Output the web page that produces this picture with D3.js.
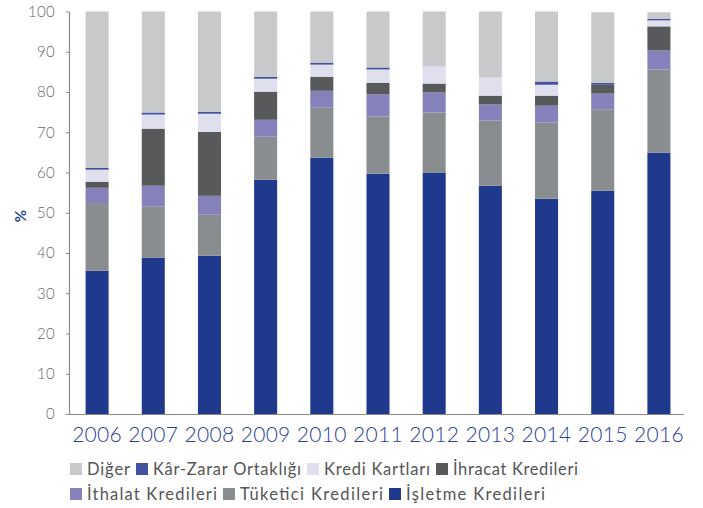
<!DOCTYPE html>
<html>
<head>
<meta charset="utf-8">
<script src="https://cdn.jsdelivr.net/npm/d3@7"></script>
<style>
  html, body { margin: 0; padding: 0; background: #fff; }
  svg { display: block; font-family: Lato, "Open Sans", sans-serif; }
</style>
</head>
<body>
<svg id="chart" width="703" height="508"></svg>
<script>
// Years along the x axis
const years = ["2006","2007","2008","2009","2010","2011","2012","2013","2014","2015","2016"];

// Share of each loan type (%), stacked bottom to top
const isletme     = [35.6, 38.8, 39.3, 58.2, 63.7, 59.7, 60.0, 56.7, 53.5, 55.5, 64.9];
const tuketici    = [16.8, 12.7, 10.2, 10.7, 12.4, 14.2, 14.9, 16.2, 18.9, 20.1, 20.7];
const ithalat     = [ 3.8,  5.2,  4.7,  4.2,  4.2,  5.5,  5.0,  4.0,  4.2,  4.0,  4.7];
const ihracat     = [ 1.5, 14.2, 15.9,  7.0,  3.5,  2.9,  2.2,  2.2,  2.5,  2.2,  6.0];
const krediKart   = [ 3.0,  3.5,  4.5,  3.2,  3.0,  3.3,  4.2,  4.5,  2.7,  0.0,  1.5];
const karZarar    = [ 0.5,  0.5,  0.5,  0.5,  0.5,  0.5,  0.0,  0.0,  0.8,  0.5,  0.4];
const diger       = [38.8, 25.1, 24.9, 16.2, 12.7, 13.9, 13.7, 16.4, 17.4, 17.5,  1.6];

const yTicks = [0,10,20,30,40,50,60,70,80,90,100];

// Series in stacking order (bottom first)
const series = [
  { key: "isletme",   name: "İşletme Kredileri",   values: isletme,   color: "#1f398d" },
  { key: "tuketici",  name: "Tüketici Kredileri",  values: tuketici,  color: "#8a8d90" },
  { key: "ithalat",   name: "İthalat Kredileri",   values: ithalat,   color: "#8582bb" },
  { key: "ihracat",   name: "İhracat Kredileri",   values: ihracat,   color: "#58595b" },
  { key: "krediKart", name: "Kredi Kartları",      values: krediKart, color: "#dfdfee" },
  { key: "karZarar",  name: "Kâr-Zarar Ortaklığı", values: karZarar,  color: "#4451a1" },
  { key: "diger",     name: "Diğer",               values: diger,     color: "#c8c9cb" }
];

// Legend rows: entry order, swatch left edges and the right end of each row
const legendRows = [
  { keys: ["diger", "karZarar", "krediKart", "ihracat"], xs: [70, 136, 307, 436], end: 578 },
  { keys: ["ithalat", "tuketici", "isletme"],            xs: [70, 223, 389],      end: 545 }
];

const rows = years.map((y, i) => {
  const r = { year: y };
  series.forEach(s => r[s.key] = s.values[i]);
  return r;
});

const svg = d3.select("#chart");

const x = d3.scaleBand()
  .domain(years)
  .range([69, 687])
  .paddingInner(0.59)
  .paddingOuter(0.295);

const y = d3.scaleLinear()
  .domain([0, 100])
  .range([414, 11.5]);

const stack = d3.stack().keys(series.map(s => s.key));
const stacked = stack(rows);
const colorOf = Object.fromEntries(series.map(s => [s.key, s.color]));

// Bars
svg.append("g")
  .selectAll("g")
  .data(stacked)
  .join("g")
    .attr("fill", d => colorOf[d.key])
  .selectAll("rect")
  .data(d => d)
  .join("rect")
    .attr("x", d => x(d.data.year))
    .attr("width", x.bandwidth())
    .attr("y", d => y(d[1]))
    .attr("height", d => Math.max(0, y(d[0]) - y(d[1])));

// Y axis
const yAxis = svg.append("g")
  .attr("transform", "translate(69,0)")
  .call(d3.axisLeft(y).tickValues(yTicks).tickSize(3).tickSizeOuter(0).tickPadding(11));
yAxis.select(".domain").attr("stroke", "#8a8a8a").attr("stroke-width", 1.2);
yAxis.selectAll(".tick line").attr("stroke", "#8a8a8a");
yAxis.selectAll(".tick text")
  .attr("fill", "#666")
  .style("font-size", "15px")
  .style("font-weight", "300")
  .style("letter-spacing", "0.3px")
  .style("font-family", "Lato, sans-serif");

// X axis baseline and year labels
svg.append("line")
  .attr("x1", 66).attr("x2", 684)
  .attr("y1", y(0) + 0.5).attr("y2", y(0) + 0.5)
  .attr("stroke", "#8a8a8a").attr("stroke-width", 1.2);

const xAxis = svg.append("g")
  .attr("transform", `translate(0,${y(0)})`)
  .call(d3.axisBottom(x).tickSize(0).tickPadding(13));
xAxis.select(".domain").remove();
xAxis.selectAll(".tick text")
  .attr("fill", "#2b4099")
  .style("font-size", "21px")
  .style("font-weight", "300")
  .style("letter-spacing", "0.3px")
  .style("font-family", "Lato, sans-serif");

// Axis unit
svg.append("text")
  .attr("transform", "translate(26,216) rotate(-90)")
  .attr("text-anchor", "middle")
  .attr("fill", "#2b3f93")
  .style("font-size", "15px")
  .style("font-weight", "bold")
  .text("%");

// Legend
const byKey = Object.fromEntries(series.map(s => [s.key, s]));
legendRows.forEach((row, ri) => {
  const yTop = 463 + ri * 25;
  row.keys.forEach((k, i) => {
    const s = byKey[k];
    const sx = row.xs[i];
    const textEnd = i + 1 < row.xs.length ? row.xs[i + 1] - 6 : row.end;
    svg.append("rect")
      .attr("x", sx).attr("y", yTop)
      .attr("width", 12).attr("height", 12)
      .attr("fill", s.color);
    svg.append("text")
      .attr("x", sx + 17).attr("y", yTop + 11.5)
      .attr("fill", "#555")
      .attr("textLength", textEnd - (sx + 17))
      .attr("lengthAdjust", "spacing")
      .style("font-size", "16.5px")
      .style("font-family", "Lato, sans-serif")
      .text(s.name);
  });
});
</script>
</body>
</html>
